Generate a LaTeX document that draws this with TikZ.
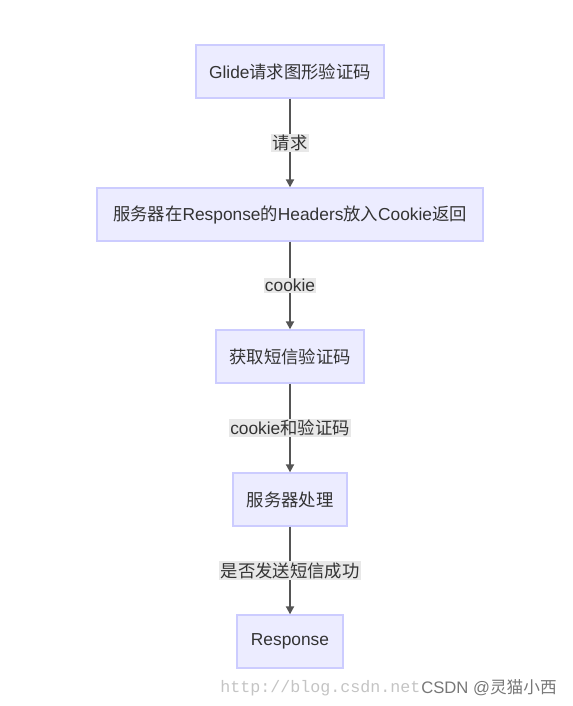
\documentclass[tikz,border=0pt]{standalone}
\usepackage{fontspec}
\setmainfont{Liberation Sans}
\newfontfamily\cjk{Noto Sans CJK SC}
\newfontfamily\wmfont{Liberation Mono}
\usetikzlibrary{arrows.meta}
\definecolor{nodefill}{HTML}{ECECFF}
\definecolor{nodeline}{HTML}{CCCCFF}
\definecolor{txt}{HTML}{333333}
\definecolor{lblbg}{HTML}{E8E8E8}
\definecolor{edgec}{HTML}{555555}
\definecolor{wm}{HTML}{C4C4C4}
\tikzset{
  box/.style={draw=nodeline, fill=nodefill, line width=1pt, text=txt, inner sep=0pt, anchor=center, font=\fontsize{13}{15}\selectfont},
  lbl/.style={fill=lblbg, text=txt, inner sep=1pt, font=\fontsize{13}{15}\selectfont},
  flow/.style={draw=edgec, line width=1.4pt, -{Triangle[length=6pt,width=6pt]}}
}
\begin{document}
\begin{tikzpicture}[x=0.75pt,y=-0.75pt]
\useasboundingbox (0,0) rectangle (572,706);
\node[box, minimum width=188*0.75pt, minimum height=53*0.75pt] (n1) at (290,71.5) {Glide{\cjk 请求图形验证码}};
\node[box, minimum width=386*0.75pt, minimum height=53*0.75pt] (n2) at (290,214.5) {{\cjk 服务器在}Response{\cjk 的}Headers{\cjk 放入}Cookie{\cjk 返回}};
\node[box, minimum width=148*0.75pt, minimum height=53*0.75pt] (n3) at (290,356.5) {{\cjk 获取短信验证码}};
\node[box, minimum width=114*0.75pt, minimum height=53*0.75pt] (n4) at (290,499.5) {{\cjk 服务器处理}};
\node[box, minimum width=106*0.75pt, minimum height=53*0.75pt] (n5) at (290,641.5) {Response};
\draw[flow] (n1) -- node[lbl] {\cjk 请求} (n2);
\draw[flow] (n2) -- node[lbl] {cookie} (n3);
\draw[flow] (n3) -- node[lbl] {cookie{\cjk 和验证码}} (n4);
\draw[flow] (n4) -- node[lbl] {\cjk 是否发送短信成功} (n5);
\node[text=wm, anchor=west, inner sep=0pt, font=\wmfont\fontsize{12.5}{15}\selectfont] (wm1) at (220,688) {http://blog.csdn.net};
\node[text=edgec!80, anchor=west, inner sep=0pt, font=\fontsize{12.5}{14}\selectfont] (wm2) at (421,688) {CSDN @{\cjk 灵猫小西}};
\end{tikzpicture}
\end{document}
